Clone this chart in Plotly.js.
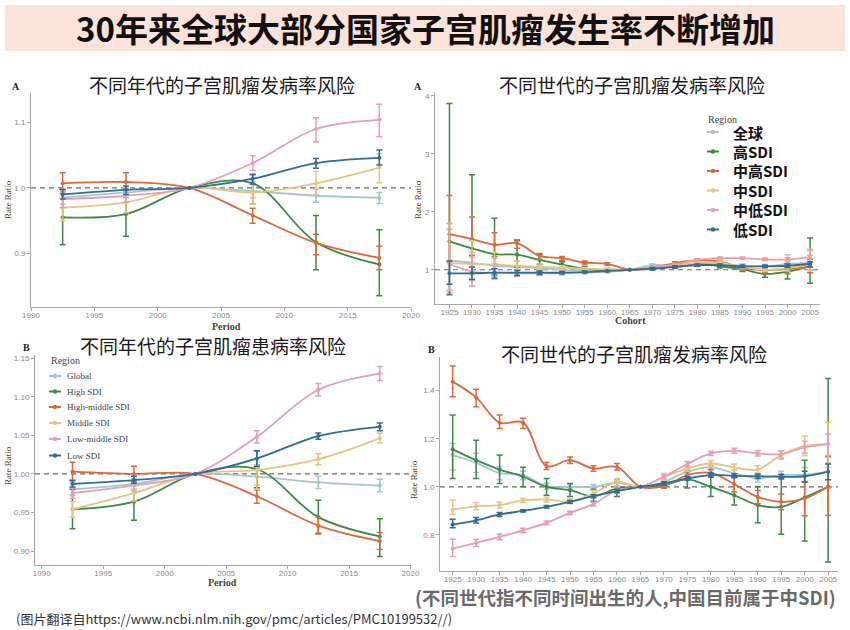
<!DOCTYPE html>
<html><head><meta charset="utf-8">
<script src="https://cdn.plot.ly/plotly-3.0.1.min.js"></script>
<style>html,body{margin:0;padding:0;background:#fff}#chart{width:850px;height:630px}</style>
</head><body><div id="chart"></div>
<script>
// ---------------- DATA ----------------
const periods = [1992.5, 1997.5, 2002.5, 2007.5, 2012.5, 2017.5];
const cohorts = [1925,1930,1935,1940,1945,1950,1955,1960,1965,1970,1975,1980,1985,1990,1995,2000,2005];
const periodTicks = [1990,1995,2000,2005,2010,2015,2020];
const cohortTicks = cohorts;
const seriesEn = ['Global','High SDI','High-middle SDI','Middle SDI','Low-middle SDI','Low SDI'];
const seriesZh = ['全球','高SDI','中高SDI','中SDI','中低SDI','低SDI'];
const seriesColors = ['#a9c5cf','#3b8a46','#dc6a3b','#e8c57e','#e99fb0','#2f6d99'];

// Panel A (top-left): incidence by period — rows in series order
const periodIncRR = [
  [0.985,0.993,1.0,0.995,0.988,0.985],
  [0.955,0.960,1.0,1.007,0.917,0.883],
  [1.007,1.009,1.0,0.958,0.916,0.893],
  [0.970,0.978,1.0,0.993,1.007,1.031],
  [0.983,0.988,1.0,1.038,1.090,1.104],
  [0.990,0.997,1.0,1.014,1.038,1.046]];
const periodIncLo = [
  [0.975,0.985,1.0,0.985,0.978,0.976],
  [0.913,0.926,1.0,0.975,0.875,0.835],
  [0.992,0.995,1.0,0.946,0.898,0.875],
  [0.950,0.962,1.0,0.975,0.990,1.008],
  [0.970,0.978,1.0,1.027,1.070,1.078],
  [0.983,0.990,1.0,1.006,1.030,1.035]];
const periodIncHi = [
  [0.995,1.000,1.0,1.005,0.998,0.993],
  [0.997,0.994,1.0,1.020,0.958,0.936],
  [1.023,1.023,1.0,0.969,0.929,0.911],
  [0.990,0.994,1.0,1.010,1.025,1.052],
  [0.995,0.998,1.0,1.049,1.107,1.128],
  [0.998,1.003,1.0,1.021,1.045,1.058]];

// Panel A (top-right): incidence by cohort
const cohortIncRR = [
  [1.16,1.12,1.07,1.05,1.03,1.00,0.99,0.97,1.0,1.08,1.07,1.10,1.10,1.07,1.06,1.10,1.12],
  [1.49,1.37,1.27,1.26,1.17,1.09,1.02,0.99,1.0,1.02,1.06,1.10,1.06,1.01,0.93,0.97,1.06],
  [1.615,1.53,1.43,1.46,1.24,1.20,1.126,1.103,1.0,1.03,1.115,1.16,1.14,1.03,1.00,1.01,1.06],
  [1.12,1.10,1.09,1.07,1.05,1.04,1.02,1.01,1.0,1.04,1.08,1.12,1.12,1.05,1.00,1.03,1.10],
  [1.10,0.97,0.95,0.94,0.94,0.94,0.95,0.97,1.0,1.04,1.086,1.17,1.20,1.20,1.18,1.18,1.22],
  [0.94,0.94,0.95,0.95,0.95,0.95,0.96,0.98,1.0,1.02,1.05,1.08,1.08,1.06,1.06,1.07,1.10]];
const cohortIncLo = [
  [0.60,0.95,0.88,0.95,0.97,0.97,0.97,0.95,1.0,1.05,1.04,1.07,1.07,1.04,1.03,1.00,1.00],
  [0.57,0.84,0.91,1.05,1.09,1.02,0.97,0.96,1.0,1.00,1.03,1.07,1.03,0.97,0.87,0.84,0.77],
  [1.13,1.25,1.23,1.37,1.18,1.16,1.10,1.08,1.0,1.01,1.09,1.13,1.11,0.99,0.95,0.93,0.95],
  [0.65,0.85,0.95,1.00,1.00,1.01,1.00,0.99,1.0,1.02,1.06,1.09,1.09,1.02,0.97,0.98,0.98],
  [0.64,0.72,0.85,0.89,0.90,0.91,0.93,0.96,1.0,1.02,1.06,1.15,1.18,1.18,1.16,1.15,1.12],
  [0.75,0.83,0.85,0.90,0.92,0.93,0.95,0.97,1.0,1.00,1.03,1.06,1.06,1.04,1.04,1.04,1.05]];
const cohortIncHi = [
  [1.70,1.30,1.20,1.15,1.10,1.03,1.01,0.99,1.0,1.10,1.10,1.13,1.13,1.10,1.09,1.26,1.25],
  [3.87,2.64,1.89,1.50,1.26,1.14,1.06,1.02,1.0,1.05,1.09,1.13,1.09,1.05,1.06,1.11,1.55],
  [2.28,1.91,1.64,1.52,1.28,1.23,1.15,1.12,1.0,1.05,1.14,1.19,1.17,1.07,1.05,1.09,1.18],
  [1.80,1.50,1.30,1.15,1.10,1.07,1.04,1.03,1.0,1.06,1.10,1.15,1.15,1.08,1.04,1.10,1.33],
  [1.80,1.22,1.10,1.00,0.98,0.97,0.97,0.98,1.0,1.06,1.11,1.19,1.22,1.22,1.20,1.21,1.35],
  [1.15,1.05,1.02,0.99,0.98,0.97,0.98,0.99,1.0,1.04,1.07,1.10,1.10,1.08,1.08,1.10,1.14]];

// Panel B (bottom-left): prevalence by period
const periodPrevRR = [
  [0.980,0.987,1.0,0.9965,0.989,0.985],
  [0.954,0.964,1.0,1.006,0.944,0.919],
  [1.003,1.000,1.0,0.971,0.933,0.913],
  [0.954,0.975,1.0,1.005,1.019,1.046],
  [0.975,0.985,1.0,1.048,1.109,1.130],
  [0.987,0.992,1.0,1.020,1.049,1.061]];
const periodPrevLo = [
  [0.972,0.980,1.0,0.985,0.981,0.977],
  [0.929,0.940,1.0,0.982,0.923,0.893],
  [0.992,0.990,1.0,0.962,0.922,0.902],
  [0.944,0.965,1.0,0.980,1.012,1.040],
  [0.968,0.978,1.0,1.040,1.101,1.121],
  [0.983,0.988,1.0,1.010,1.045,1.056]];
const periodPrevHi = [
  [0.988,0.994,1.0,1.008,0.997,0.993],
  [0.980,0.988,1.0,1.030,0.966,0.942],
  [1.015,1.010,1.0,0.979,0.944,0.924],
  [0.964,0.985,1.0,1.012,1.026,1.053],
  [0.982,0.992,1.0,1.056,1.117,1.139],
  [0.991,0.997,1.0,1.030,1.053,1.066]];

// Panel B (bottom-right): incidence by cohort
const cohortIncBRR = [
  [1.132,1.100,1.058,1.049,1.003,1.000,1.000,1.017,1.0,1.020,1.063,1.081,1.056,1.035,1.049,1.050,1.063],
  [1.156,1.111,1.072,1.042,1.000,0.986,0.961,0.993,1.0,1.007,1.031,1.000,0.965,0.924,0.917,0.956,1.000],
  [1.4375,1.372,1.267,1.267,1.086,1.111,1.076,1.083,1.0,1.003,1.049,1.058,1.011,0.958,0.9375,0.951,1.000],
  [0.906,0.919,0.924,0.944,0.947,0.940,0.972,1.021,1.0,1.042,1.076,1.097,1.081,1.072,1.132,1.170,1.178],
  [0.743,0.767,0.792,0.819,0.850,0.892,0.928,0.985,1.0,1.042,1.095,1.139,1.150,1.139,1.136,1.164,1.178],
  [0.843,0.861,0.885,0.900,0.917,0.9375,0.961,0.982,1.0,1.014,1.035,1.049,1.046,1.044,1.042,1.044,1.063]];
const cohortIncBLo = [
  [1.07,1.06,1.03,1.03,0.99,0.99,0.99,1.005,1.0,1.01,1.05,1.07,1.045,1.02,1.035,1.02,1.03],
  [1.035,1.035,1.014,1.00,0.965,0.96,0.94,0.96,1.0,0.995,0.995,0.96,0.924,0.851,0.803,0.775,0.6875],
  [1.375,1.333,1.243,1.243,1.072,1.097,1.065,1.07,1.0,0.995,1.035,1.045,0.98,0.93,0.905,0.88,0.882],
  [0.885,0.905,0.912,0.935,0.937,0.93,0.96,1.005,1.0,1.03,1.065,1.085,1.068,1.058,1.115,1.13,1.08],
  [0.71,0.752,0.78,0.81,0.842,0.885,0.92,0.975,1.0,1.035,1.085,1.13,1.14,1.128,1.12,1.14,1.13],
  [0.83,0.85,0.877,0.895,0.912,0.932,0.955,0.975,1.0,1.008,1.028,1.04,1.038,1.035,1.033,1.02,1.03]];
const cohortIncBHi = [
  [1.18,1.14,1.085,1.065,1.015,1.01,1.01,1.03,1.0,1.03,1.075,1.09,1.07,1.05,1.065,1.08,1.10],
  [1.299,1.194,1.132,1.081,1.035,1.014,0.99,1.02,1.0,1.02,1.063,1.055,1.042,1.0,1.039,1.111,1.451],
  [1.503,1.406,1.299,1.285,1.101,1.124,1.088,1.097,1.0,1.01,1.065,1.072,1.04,0.985,0.97,1.02,1.125],
  [0.945,0.935,0.937,0.952,0.957,0.95,0.985,1.035,1.0,1.055,1.088,1.11,1.095,1.088,1.15,1.211,1.268],
  [0.782,0.782,0.804,0.828,0.858,0.899,0.936,0.995,1.0,1.05,1.105,1.148,1.16,1.15,1.15,1.19,1.22],
  [0.865,0.872,0.893,0.905,0.922,0.943,0.967,0.99,1.0,1.02,1.042,1.058,1.054,1.053,1.052,1.065,1.095]];

// ---------------- BUILD ----------------
const W = 850, H = 630;
const px = x => x / W;
const py = y => 1 - y / H;
const CJK = '"Noto Sans CJK SC", "Noto Sans", sans-serif';
const SERIF = '"Liberation Serif", "DejaVu Serif", serif';
const SANS = '"Liberation Sans", Arial, sans-serif';

const traces = [];
function addPanel(xs, rr, lo, hi, ax) {
  rr.forEach((vals, i) => {
    traces.push({
      type: 'scatter', mode: 'lines+markers',
      x: xs, y: vals, xaxis: 'x' + ax, yaxis: 'y' + ax,
      name: seriesEn[i], showlegend: false, hoverinfo: 'x+y',
      line: {color: seriesColors[i], width: 1.8, shape: 'spline', smoothing: 1},
      marker: {color: seriesColors[i], size: 4},
      error_y: {type: 'data', symmetric: false,
        array: vals.map((v, k) => hi[i][k] - v),
        arrayminus: vals.map((v, k) => v - lo[i][k]),
        color: seriesColors[i], thickness: 1.5, width: 3}
    });
  });
}
addPanel(periods, periodIncRR, periodIncLo, periodIncHi, '');
addPanel(cohorts, cohortIncRR, cohortIncLo, cohortIncHi, '2');
addPanel(periods, periodPrevRR, periodPrevLo, periodPrevHi, '3');
addPanel(cohorts, cohortIncBRR, cohortIncBLo, cohortIncBHi, '4');

function xAx(dom, range, ticks) {
  return {domain: dom, range: range, tickmode: 'array', tickvals: ticks,
    showline: true, linecolor: '#a8a8a8', linewidth: 1, ticks: 'outside', ticklen: 3,
    ticklabelstandoff: -3,
    tickcolor: '#a8a8a8', tickfont: {family: SANS, size: 8, color: '#8a8a8a'},
    showgrid: false, zeroline: false, fixedrange: true};
}
function yAx(dom, range, ticks, fmt) {
  return {domain: dom, range: range, tickmode: 'array', tickvals: ticks, tickformat: fmt,
    showline: true, linecolor: '#a8a8a8', linewidth: 1, ticks: 'outside', ticklen: 3,
    tickcolor: '#a8a8a8', tickfont: {family: SANS, size: 8, color: '#8a8a8a'},
    showgrid: false, zeroline: false, fixedrange: true};
}

const layout = {
  width: W, height: H, margin: {l: 0, r: 0, t: 0, b: 0},
  paper_bgcolor: '#ffffff', plot_bgcolor: 'rgba(0,0,0,0)', showlegend: false,
  xaxis: Object.assign(xAx([px(31), px(411)], [1990, 2020], periodTicks), {anchor: 'y'}),
  yaxis: Object.assign(yAx([py(307), py(93)], [0.818, 1.145], [0.9, 1.0, 1.1], '.1f'), {anchor: 'x'}),
  xaxis2: Object.assign(xAx([px(435), px(820)], [1921.8, 2007.2], cohortTicks), {anchor: 'y2'}),
  yaxis2: Object.assign(yAx([py(304), py(93)], [0.41, 4.05], [1, 2, 3, 4], 'd'), {anchor: 'x2'}),
  xaxis3: Object.assign(xAx([px(35), px(410.5)], [1989.45, 2020], periodTicks), {anchor: 'y3'}),
  yaxis3: Object.assign(yAx([py(565), py(355)], [0.882, 1.154], [0.90, 0.95, 1.00, 1.05, 1.10, 1.15], '.2f'), {anchor: 'x3'}),
  xaxis4: Object.assign(xAx([px(440), px(838)], [1922.3, 2007.1], cohortTicks), {anchor: 'y4'}),
  yaxis4: Object.assign(yAx([py(571), py(357)], [0.65, 1.54], [0.8, 1.0, 1.2, 1.4], '.1f'), {anchor: 'x4'}),
  shapes: [], annotations: []
};

// banner
layout.shapes.push({type: 'rect', xref: 'paper', yref: 'paper', x0: px(5), x1: px(845), y0: py(51), y1: py(5),
  fillcolor: '#fbe3d9', line: {width: 0}, layer: 'below'});

// reference lines at RR = 1
['', '2', '3', '4'].forEach(ax => {
  layout.shapes.push({type: 'line', xref: 'x' + ax + ' domain', yref: 'y' + ax, x0: 0, x1: 1, y0: 1, y1: 1,
    line: {color: '#6a6a6a', width: 1.1, dash: '5px,4px'}, layer: 'below'});
});

function ann(text, x, y, font, extra) {
  layout.annotations.push(Object.assign({text: text, xref: 'paper', yref: 'paper', x: px(x), y: py(y),
    showarrow: false, xanchor: 'center', yanchor: 'middle', font: font}, extra || {}));
}

// titles
ann('<b>30年来全球大部分国家子宫肌瘤发生率不断增加</b>', 425, 28, {family: CJK, size: 33, color: '#111'});
ann('不同年代的子宫肌瘤发病率风险', 222, 85, {family: CJK, size: 19, color: '#1a1a1a'});
ann('不同世代的子宫肌瘤发病率风险', 632, 85, {family: CJK, size: 19, color: '#1a1a1a'});
ann('不同年代的子宫肌瘤患病率风险', 213, 345, {family: CJK, size: 19, color: '#1a1a1a'});
ann('不同世代的子宫肌瘤发病率风险', 634, 353, {family: CJK, size: 19, color: '#1a1a1a'});

// panel letters
ann('<b>A</b>', 16, 87, {family: SERIF, size: 10, color: '#222'});
ann('<b>A</b>', 418, 87, {family: SERIF, size: 10, color: '#222'});
ann('<b>B</b>', 27, 347, {family: SERIF, size: 10, color: '#222'});
ann('<b>B</b>', 431, 349, {family: SERIF, size: 10, color: '#222'});

// axis titles
ann('Rate Ratio', 8, 200, {family: SERIF, size: 9, color: '#444'}, {textangle: -90});
ann('Rate Ratio', 418, 200, {family: SERIF, size: 9, color: '#444'}, {textangle: -90});
ann('Rate Ratio', 8, 466, {family: SERIF, size: 9, color: '#444'}, {textangle: -90});
ann('Rate Ratio', 414, 480, {family: SERIF, size: 9, color: '#444'}, {textangle: -90});
ann('<b>Period</b>', 226, 326, {family: SERIF, size: 10, color: '#444'});
ann('<b>Period</b>', 223, 582, {family: SERIF, size: 10, color: '#444'});
ann('<b>Cohort</b>', 630, 320, {family: SERIF, size: 10, color: '#444'});

// legend symbols helper
function legendSym(cx, cy, color, halfLen, r) {
  layout.shapes.push({type: 'line', xref: 'paper', yref: 'paper', x0: px(cx - halfLen), x1: px(cx + halfLen),
    y0: py(cy), y1: py(cy), line: {color: color, width: 2}});
  layout.shapes.push({type: 'circle', xref: 'paper', yref: 'paper', x0: px(cx - r), x1: px(cx + r),
    y0: py(cy + r), y1: py(cy - r), fillcolor: color, line: {color: color, width: 0}});
}

// Chinese legend (top-right)
ann('Region', 706, 119, {family: SERIF, size: 10, color: '#444'}, {xanchor: 'left'});
const zhY = [132, 151.5, 171, 190.5, 210, 229.5];
seriesZh.forEach((t, i) => {
  legendSym(713, zhY[i], seriesColors[i], 6, 2.3);
  ann('<b>' + t + '</b>', 731, zhY[i], {family: CJK, size: 15, color: '#111'}, {xanchor: 'left'});
});

// English legend (bottom-left)
ann('Region', 49, 360, {family: SERIF, size: 10, color: '#444'}, {xanchor: 'left'});
const enY = [376, 391.5, 407, 423, 439, 455.5];
seriesEn.forEach((t, i) => {
  legendSym(55, enY[i], seriesColors[i], 6, 2.2);
  ann(t, 65, enY[i], {family: SERIF, size: 9, color: '#444'}, {xanchor: 'left'});
});

// footnotes
ann('<b>(不同世代指不同时间出生的人,中国目前属于中SDI)</b>', 413, 597, {family: CJK, size: 18.5, color: '#6a6a6a'}, {xanchor: 'left'});
ann('(图片翻译自https://www.ncbi.nlm.nih.gov/pmc/articles/PMC10199532//)', 14, 618, {family: CJK, size: 13, color: '#333'}, {xanchor: 'left'});

Plotly.newPlot('chart', traces, layout, {displayModeBar: false, staticPlot: true});
</script></body></html>
